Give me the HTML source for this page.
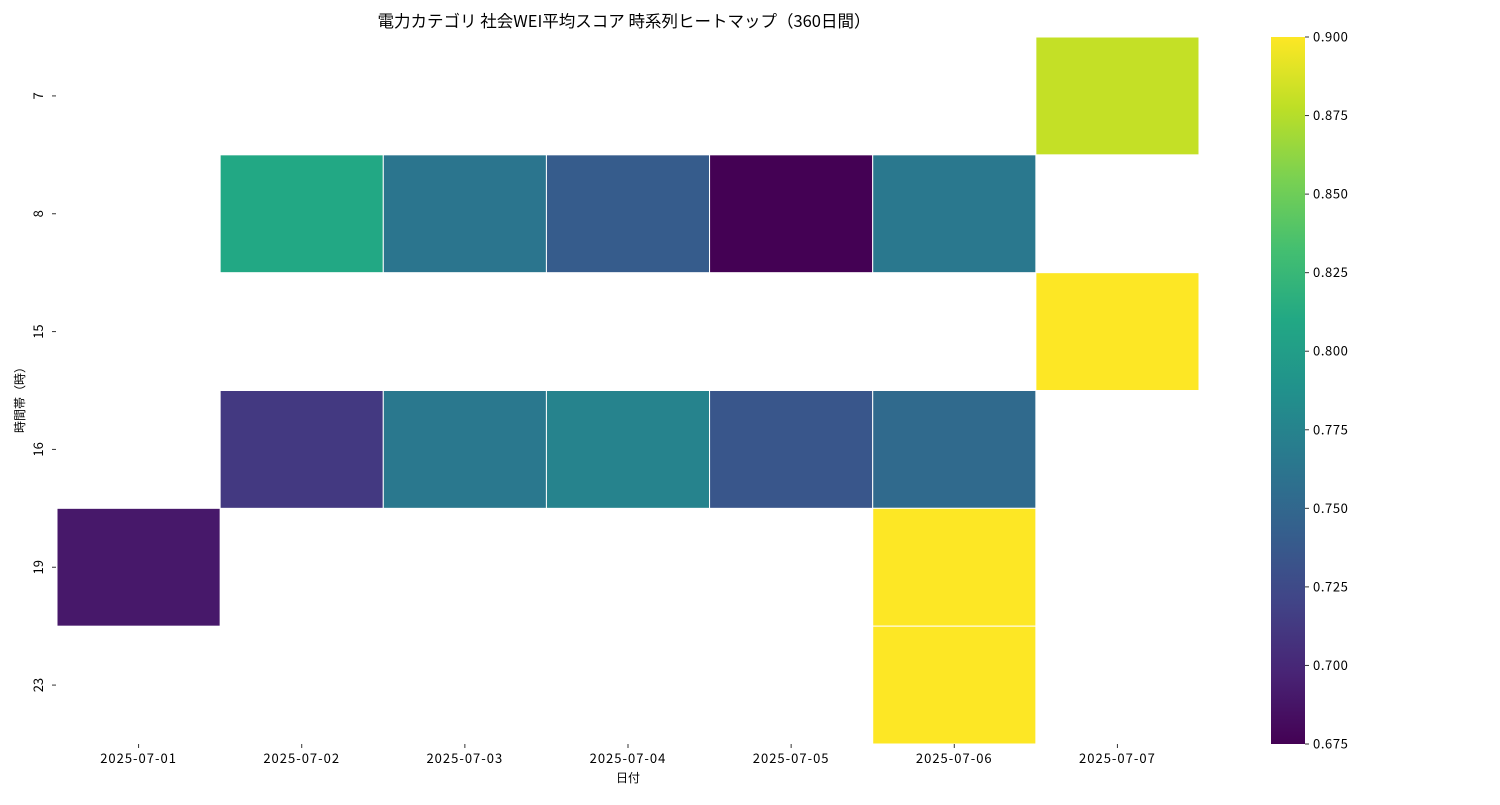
<!DOCTYPE html>
<html><head><meta charset="utf-8"><style>
body{margin:0;background:#fff;font-family:"Noto Sans CJK JP","Liberation Sans",sans-serif;}
text{font-family:"Noto Sans CJK JP","Liberation Sans",sans-serif;}
</style></head><body>
<svg id="chart" width="1500" height="800" xmlns="http://www.w3.org/2000/svg">
<defs><linearGradient id="vg" x1="0" y1="1" x2="0" y2="0"></linearGradient></defs>
<text x="624" y="27" text-anchor="middle" font-size="16.5">電力カテゴリ 社会WEI平均スコア 時系列ヒートマップ（360日間）</text>
<text x="628" y="782" text-anchor="middle" font-size="12">日付</text>
<text x="24" y="397" text-anchor="middle" font-size="12" transform="rotate(-90 24 397)">時間帯（時）</text>
<g id="cells"></g><g id="ticks"></g><g id="cbar"></g>
</svg>
<script>
const dates=["2025-07-01","2025-07-02","2025-07-03","2025-07-04","2025-07-05","2025-07-06","2025-07-07"];
const hours=["7","8","15","16","19","23"];
// [hourIndex, dateIndex, value]
const values=[[0,6,0.88],[1,1,0.81],[1,2,0.762],[1,3,0.74],[1,4,0.675],[1,5,0.765],[2,6,0.9],[3,1,0.712],[3,2,0.765],[3,3,0.775],[3,4,0.735],[3,5,0.752],[4,0,0.69],[4,5,0.9],[5,5,0.9]];
const cbTicks=[0.675,0.7,0.725,0.75,0.775,0.8,0.825,0.85,0.875,0.9];
const vmin=0.675,vmax=0.9;
const vir=["#440154","#482475","#414487","#355f8d","#2a788e","#21918c","#22a884","#44bf70","#7ad151","#bddf26","#fde725"];
function hx(c){return [1,3,5].map(i=>parseInt(c.substr(i,2),16));}
function color(v){let t=Math.max(0,Math.min(1,(v-vmin)/(vmax-vmin)))*(vir.length-1);let i=Math.min(Math.floor(t),vir.length-2),f=t-i;const a=hx(vir[i]),b=hx(vir[i+1]);return "rgb("+a.map((x,k)=>Math.round(x+(b[k]-x)*f)).join(",")+")";}
const X0=57,X1=1199,Y0=37,Y1=744;
const cw=(X1-X0)/dates.length,ch=(Y1-Y0)/hours.length;
const xs=i=>X0+i*cw, ys=i=>Y0+i*ch;
const NS="http://www.w3.org/2000/svg";
function el(t,a,p){const e=document.createElementNS(NS,t);for(const k in a)e.setAttribute(k,a[k]);p.appendChild(e);return e;}
const cells=document.getElementById("cells");
values.forEach(([h,d,v])=>{const r=el("rect",{x:xs(d),y:ys(h),width:cw,height:ch,fill:color(v),stroke:"#fff","stroke-width":1},cells);

});
const tk=document.getElementById("ticks");
dates.forEach((d,i)=>{const x=xs(i)+cw/2;el("line",{x1:x,x2:x,y1:Y1,y2:Y1+4,stroke:"#333"},tk);
const t=el("text",{x:x,y:Y1+19,"text-anchor":"middle","font-size":13,"letter-spacing":"1"},tk);t.textContent=d;

});
hours.forEach((h,i)=>{const y=ys(i)+ch/2;el("line",{x1:X0-5,x2:X0-1,y1:y,y2:y,stroke:"#333"},tk);
const t=el("text",{x:43,y:y,"text-anchor":"middle","font-size":13,transform:`rotate(-90 43 ${y})`},tk);t.textContent=h;

});
const g=document.getElementById("vg");
vir.forEach((c,i)=>el("stop",{offset:(i/(vir.length-1)),"stop-color":c},g));
const cb=document.getElementById("cbar");
const bar=el("rect",{x:1271,y:Y0,width:34,height:Y1-Y0,fill:"url(#vg)"},cb);


const cy=v=>Y1-(v-vmin)/(vmax-vmin)*(Y1-Y0);
cbTicks.forEach(v=>{const y=cy(v);el("line",{x1:1305,x2:1309,y1:y,y2:y,stroke:"#333"},cb);
const t=el("text",{x:1313,y:y+4.5,"font-size":13,"letter-spacing":"0.6"},cb);t.textContent=v.toFixed(3);

});
</script>
</body></html>
